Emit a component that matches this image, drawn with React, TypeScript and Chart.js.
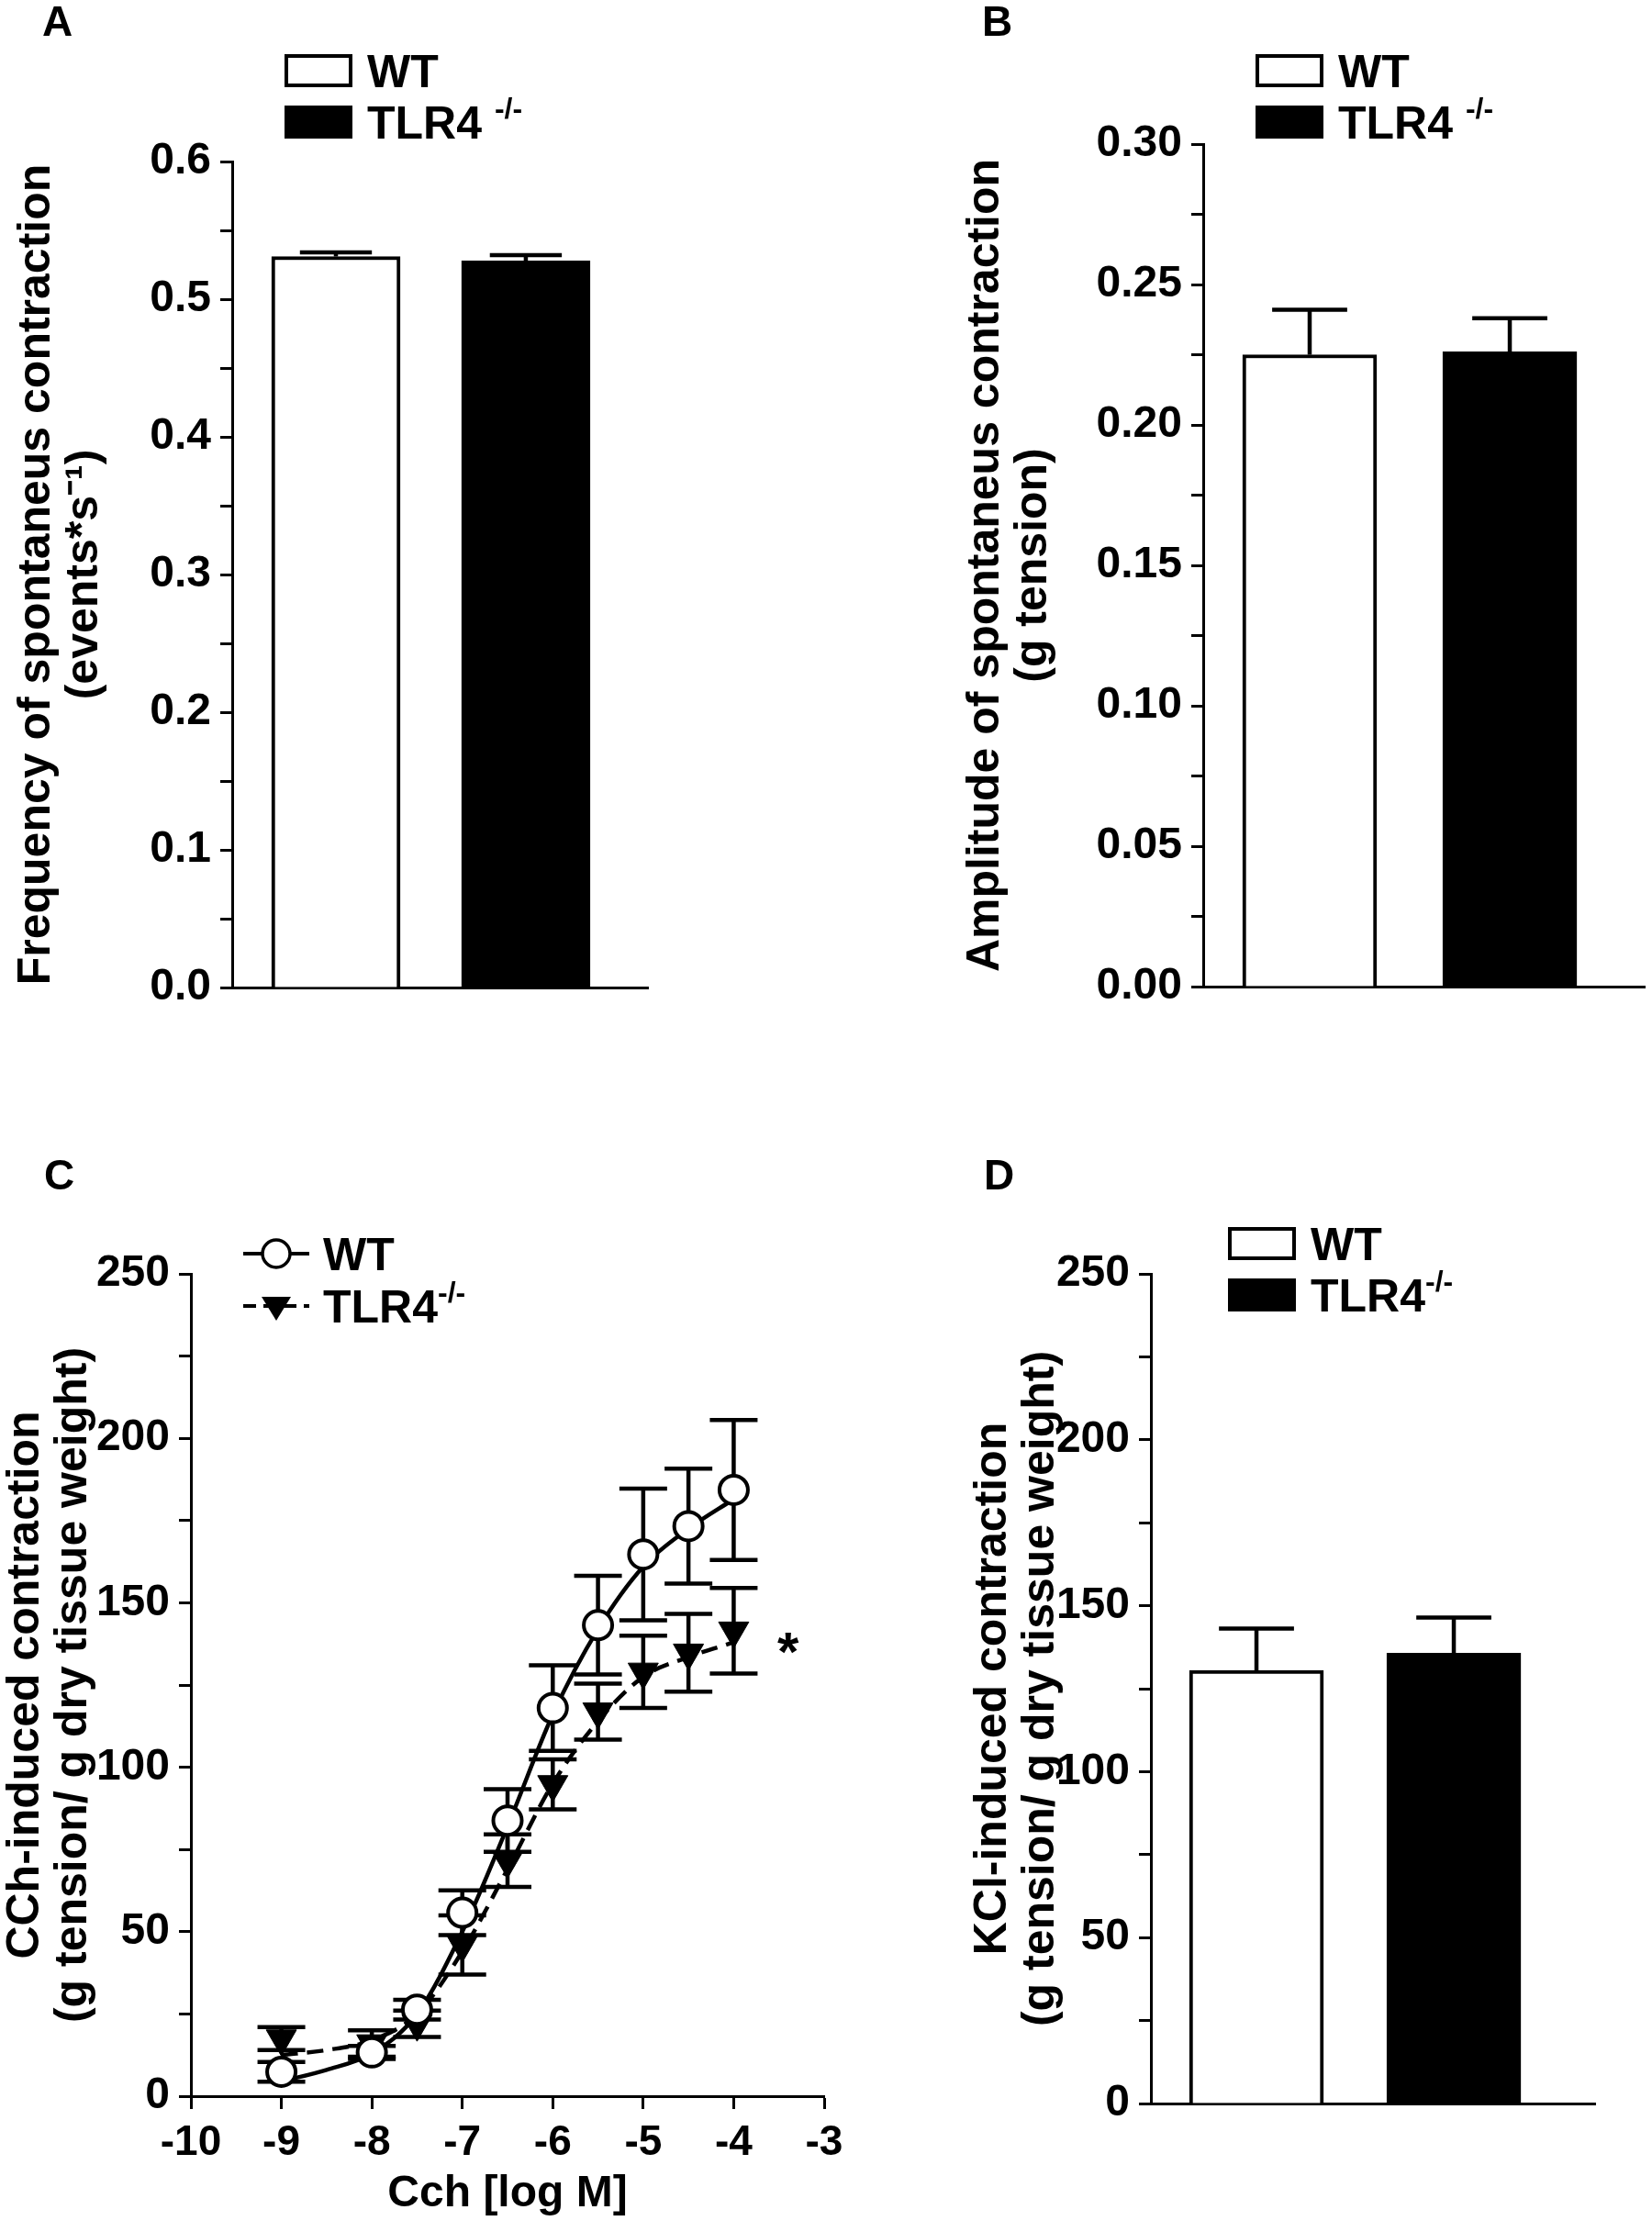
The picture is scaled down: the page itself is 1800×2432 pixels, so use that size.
import { useEffect, useRef } from 'react';
import { Chart, registerables } from 'chart.js';

Chart.register(...registerables);

const FONT = "'Liberation Sans', Arial, Helvetica, sans-serif";

// two genotypes share the same x slots in the bar panels
const groupSlots = [1, 2];
const groupColors = ['#ffffff', '#000000'];

// A: frequency of spontaneous contraction
const freqMean = [0.531, 0.528];
const freqSem = [0.003, 0.004];

// B: amplitude of spontaneous contraction
const ampMean = [0.225, 0.226];
const ampSem = [0.016, 0.012];

// D: KCl-induced contraction
const kclMean = [130.5, 135.7];
const kclSem = [12.6, 10.7];

// C: CCh concentration-response (log M)
const cchDose = [-9, -8, -7.5, -7, -6.5, -6, -5.5, -5, -4.5, -4];
const cchWT = [7.4, 13.3, 26.3, 55.8, 83.8, 118, 143.2, 164.7, 173.3, 184.3];
const cchWTSem = [3, 2, 3, 6.8, 9.5, 13, 15, 20, 17.5, 21.3];
const cchKO = [17.5, 16, 22, 46, 71.6, 94.8, 116.9, 129, 134.8, 141.5];
const cchKOSem = [3.5, 4, 4, 9, 8, 7.6, 8.5, 11, 11.8, 13];

// fitted curves
const fitDose = [-9, -8.5, -8, -7.5, -7, -6.5, -6, -5.5, -5, -4.5, -4];
const fitWT = [4.5, 8, 13, 25, 50, 82, 116, 142, 161, 172.5, 181.5];
const fitKO = [12.5, 14, 17, 25, 44, 69, 95, 114, 127.5, 133.5, 138];

// canvas box (x, y, w, h) and plot area (l, t, r, b) inside it; xMin/xMax place the bars
type Geo = {
  x: number; y: number; w: number; h: number;
  l: number; t: number; r: number; b: number;
  xMin?: number; xMax?: number; bar?: number;
};

const geoA: Geo = { x: 0, y: 0, w: 900, h: 1216, l: 253, t: 176, r: 706, b: 1076, xMin: 0.454, xMax: 2.643, bar: 140 };
const geoB: Geo = { x: 900, y: 0, w: 900, h: 1216, l: 411, t: 157, r: 892, b: 1075, xMin: 0.468, xMax: 2.674, bar: 146 };
const geoC: Geo = { x: 0, y: 1216, w: 1000, h: 1216, l: 208, t: 172, r: 898, b: 1068 };
const geoD: Geo = { x: 1000, y: 1216, w: 800, h: 1216, l: 254, t: 172, r: 738, b: 1076, xMin: 0.465, xMax: 2.716, bar: 146 };

const majorLabel = (every: number, digits: number) => (v: number | string) => {
  const n = Number(v);
  const k = Math.round(n / every);
  return Math.abs(n - k * every) < every * 1e-6 ? (k * every).toFixed(digits) : '';
};

const tickFont = { family: FONT, size: 48, weight: 'bold' as const };
const titleFont = { family: FONT, size: 50, weight: 'bold' as const, lineHeight: 1.04 };

const yAxis = (g: Geo, max: number, step: number, every: number, digits: number, title: string[], pad: number) => ({
  min: 0,
  max,
  ticks: {
    stepSize: step,
    autoSkip: false,
    callback: majorLabel(every, digits),
    font: tickFont,
    color: '#000',
    padding: 10,
  },
  grid: { drawOnChartArea: false, tickLength: 13, color: '#000', tickColor: '#000', tickWidth: 3 },
  border: { color: '#000', width: 3 },
  title: { display: true, text: title, font: titleFont, color: '#000', padding: { top: pad, bottom: 0 } },
  afterFit: (s: any) => {
    s.width = g.l;
  },
});

// upper SEM whisker on each bar
const barErrors = (sem: number[]) => ({
  id: 'barErrors',
  afterDatasetsDraw(chart: any) {
    const { ctx } = chart;
    const y = chart.scales.y;
    const meta = chart.getDatasetMeta(0);
    const pts = chart.data.datasets[0].data;
    ctx.save();
    ctx.strokeStyle = '#000';
    ctx.lineWidth = 4.5;
    meta.data.forEach((bar: any, i: number) => {
      const top = y.getPixelForValue(pts[i].y + sem[i]);
      const half = bar.width * 0.28;
      ctx.beginPath();
      ctx.moveTo(bar.x, bar.y);
      ctx.lineTo(bar.x, top);
      ctx.moveTo(bar.x - half, top);
      ctx.lineTo(bar.x + half, top);
      ctx.stroke();
    });
    ctx.restore();
  },
});

interface BarPanelProps {
  geo: Geo;
  mean: number[];
  sem: number[];
  yMax: number;
  step: number;
  every: number;
  digits: number;
  title: string[];
  titlePad: number;
}

const BarPanel = ({ geo, mean, sem, yMax, step, every, digits, title, titlePad }: BarPanelProps) => {
  const ref = useRef<HTMLCanvasElement | null>(null);

  useEffect(() => {
    if (!ref.current) return;
    const chart = new Chart(ref.current, {
      type: 'bar',
      data: {
        datasets: [
          {
            data: groupSlots.map((x, i) => ({ x, y: mean[i] })),
            backgroundColor: groupColors,
            borderColor: '#000',
            borderWidth: 4,
            borderSkipped: 'bottom',
            barThickness: geo.bar,
          },
        ],
      },
      options: {
        animation: false,
        responsive: false,
        devicePixelRatio: 1,
        layout: { padding: { left: 0, top: geo.t, right: geo.w - geo.r, bottom: geo.h - geo.b } },
        plugins: { legend: { display: false }, tooltip: { enabled: false } },
        scales: {
          x: {
            type: 'linear',
            min: geo.xMin,
            max: geo.xMax,
            offset: false,
            ticks: { display: false },
            grid: { display: false, offset: false },
            border: { display: true, color: '#000', width: 3 },
            afterFit: (s: any) => {
              s.height = 0;
            },
          },
          y: yAxis(geo, yMax, step, every, digits, title, titlePad),
        },
      } as any,
      plugins: [barErrors(sem)],
    });
    return () => chart.destroy();
  }, []);

  return (
    <canvas
      ref={ref}
      width={geo.w}
      height={geo.h}
      style={{ position: 'absolute', left: geo.x, top: geo.y, width: geo.w, height: geo.h }}
    />
  );
};

// SEM bars for the concentration-response points, drawn under the markers
const doseErrors = {
  id: 'doseErrors',
  beforeDatasetsDraw(chart: any) {
    const { ctx } = chart;
    const x = chart.scales.x;
    const y = chart.scales.y;
    const groups = [
      { mean: cchWT, sem: cchWTSem },
      { mean: cchKO, sem: cchKOSem },
    ];
    ctx.save();
    ctx.strokeStyle = '#000';
    ctx.lineWidth = 4.5;
    groups.forEach(({ mean, sem }) => {
      cchDose.forEach((d, i) => {
        const px = x.getPixelForValue(d);
        const hi = y.getPixelForValue(mean[i] + sem[i]);
        const lo = y.getPixelForValue(Math.max(0, mean[i] - sem[i]));
        ctx.beginPath();
        ctx.moveTo(px, hi);
        ctx.lineTo(px, lo);
        ctx.moveTo(px - 26, hi);
        ctx.lineTo(px + 26, hi);
        ctx.moveTo(px - 26, lo);
        ctx.lineTo(px + 26, lo);
        ctx.stroke();
      });
    });
    ctx.restore();
  },
  afterDatasetsDraw(chart: any) {
    const { ctx } = chart;
    const px = chart.scales.x.getPixelForValue(-3.4);
    const py = chart.scales.y.getPixelForValue(139);
    ctx.save();
    ctx.fillStyle = '#000';
    ctx.font = `bold 60px ${FONT}`;
    ctx.textAlign = 'center';
    ctx.textBaseline = 'alphabetic';
    ctx.fillText('*', px, py + 34);
    ctx.restore();
  },
};

const DosePanel = () => {
  const ref = useRef<HTMLCanvasElement | null>(null);
  const geo = geoC;

  useEffect(() => {
    if (!ref.current) return;
    const chart = new Chart(ref.current, {
      type: 'scatter',
      data: {
        datasets: [
          {
            label: 'WT',
            data: cchDose.map((x, i) => ({ x, y: cchWT[i] })),
            pointStyle: 'circle',
            pointRadius: 15.5,
            pointBackgroundColor: '#fff',
            pointBorderColor: '#000',
            pointBorderWidth: 4,
            showLine: false,
            order: 0,
          },
          {
            label: 'TLR4-/-',
            data: cchDose.map((x, i) => ({ x, y: cchKO[i] })),
            pointStyle: 'triangle',
            rotation: 180,
            pointRadius: 19,
            pointBackgroundColor: '#000',
            pointBorderColor: '#000',
            pointBorderWidth: 1,
            showLine: false,
            order: 1,
          },
          {
            label: 'WT fit',
            data: fitDose.map((x, i) => ({ x, y: fitWT[i] })),
            showLine: true,
            pointRadius: 0,
            borderColor: '#000',
            borderWidth: 4.5,
            cubicInterpolationMode: 'monotone',
            order: 2,
          },
          {
            label: 'TLR4-/- fit',
            data: fitDose.map((x, i) => ({ x, y: fitKO[i] })),
            showLine: true,
            pointRadius: 0,
            borderColor: '#000',
            borderWidth: 4.5,
            borderDash: [18, 10],
            cubicInterpolationMode: 'monotone',
            order: 3,
          },
        ],
      },
      options: {
        animation: false,
        responsive: false,
        devicePixelRatio: 1,
        layout: { padding: { left: 0, top: geo.t, right: geo.w - geo.r, bottom: 0 } },
        plugins: { legend: { display: false }, tooltip: { enabled: false } },
        scales: {
          x: {
            type: 'linear',
            min: -10,
            max: -3,
            ticks: { stepSize: 1, autoSkip: false, font: { family: FONT, size: 46, weight: 'bold' }, color: '#000', padding: 10 },
            grid: { drawOnChartArea: false, tickLength: 14, color: '#000', tickColor: '#000', tickWidth: 3 },
            border: { color: '#000', width: 3 },
            title: {
              display: true,
              text: 'Cch [log M]',
              font: { family: FONT, size: 48, weight: 'bold', lineHeight: 1.2 },
              color: '#000',
              padding: { top: 0, bottom: 12 },
            },
            afterFit: (s: any) => {
              s.height = geo.h - geo.b;
            },
          },
          y: yAxis(geo, 250, 25, 50, 0, ['CCh-induced contraction', '(g tension/ g dry tissue weight)'], 2),
        },
      } as any,
      plugins: [doseErrors],
    });
    return () => chart.destroy();
  }, []);

  return (
    <canvas
      ref={ref}
      width={geo.w}
      height={geo.h}
      style={{ position: 'absolute', left: geo.x, top: geo.y, width: geo.w, height: geo.h }}
    />
  );
};

const txt = {
  position: 'absolute' as const,
  fontFamily: FONT,
  fontWeight: 'bold' as const,
  color: '#000',
  lineHeight: 1,
  whiteSpace: 'nowrap' as const,
};

const Letter = ({ x, y, s }: { x: number; y: number; s: string }) => (
  <div style={{ ...txt, left: x, top: y, fontSize: 46 }}>{s}</div>
);

const Sup = ({ gap }: { gap: boolean }) => (
  <>
    {gap ? ' ' : ''}
    <span style={{ fontSize: 32, position: 'relative', top: -22 }}>-/-</span>
  </>
);

// legend with open/filled boxes for the bar panels
const BoxLegend = ({ x, y, gap }: { x: number; y: number; gap: boolean }) => (
  <>
    <div style={{ position: 'absolute', left: x, top: y, width: 74, height: 36, boxSizing: 'border-box', border: '4px solid #000', background: '#fff' }} />
    <div style={{ ...txt, left: x + 90, top: y + 18 - 24.5, fontSize: 50 }}>WT</div>
    <div style={{ position: 'absolute', left: x, top: y + 56, width: 74, height: 36, background: '#000' }} />
    <div style={{ ...txt, left: x + 90, top: y + 56 + 18 - 24.5, fontSize: 50 }}>
      TLR4
      <Sup gap={gap} />
    </div>
  </>
);

const LineLegend = ({ x, y }: { x: number; y: number }) => (
  <>
    <svg style={{ position: 'absolute', left: x, top: y - 20 }} width={74} height={100}>
      <line x1={0} y1={20} x2={72} y2={20} stroke="#000" strokeWidth={4} />
      <circle cx={36} cy={20} r={15} fill="#fff" stroke="#000" strokeWidth={3.5} />
      <line x1={0} y1={77} x2={72} y2={77} stroke="#000" strokeWidth={4} strokeDasharray="14 8" />
      <polygon points="20,67 52,67 36,93" fill="#000" />
    </svg>
    <div style={{ ...txt, left: x + 87, top: y - 24.5, fontSize: 50 }}>WT</div>
    <div style={{ ...txt, left: x + 87, top: y + 57 - 24.5, fontSize: 50 }}>
      TLR4
      <Sup gap={false} />
    </div>
  </>
);

const App = () => {
  useEffect(() => {
    document.body.style.margin = '0';
  }, []);

  return (
    <div style={{ position: 'absolute', left: 0, top: 0, width: 1800, height: 2432, background: '#fff', overflow: 'hidden' }}>
      <BarPanel
        geo={geoA}
        mean={freqMean}
        sem={freqSem}
        yMax={0.6}
        step={0.05}
        every={0.1}
        digits={1}
        title={['Frequency of spontaneus contraction', '(events*s\u207B\u00B9)']}
        titlePad={14}
      />
      <BarPanel
        geo={geoB}
        mean={ampMean}
        sem={ampSem}
        yMax={0.3}
        step={0.025}
        every={0.05}
        digits={2}
        title={['Amplitude of spontaneus contraction', '(g tension)']}
        titlePad={148}
      />
      <DosePanel />
      <BarPanel
        geo={geoD}
        mean={kclMean}
        sem={kclSem}
        yMax={250}
        step={25}
        every={50}
        digits={0}
        title={['KCl-induced contraction', '(g tension/ g dry tissue weight)']}
        titlePad={56}
      />
      <Letter x={46} y={0} s="A" />
      <Letter x={1070} y={0} s="B" />
      <Letter x={48} y={1257} s="C" />
      <Letter x={1072} y={1257} s="D" />
      <BoxLegend x={310} y={59} gap />
      <BoxLegend x={1368} y={59} gap />
      <BoxLegend x={1338} y={1337} gap={false} />
      <LineLegend x={265} y={1366} />
    </div>
  );
};

export default App;
